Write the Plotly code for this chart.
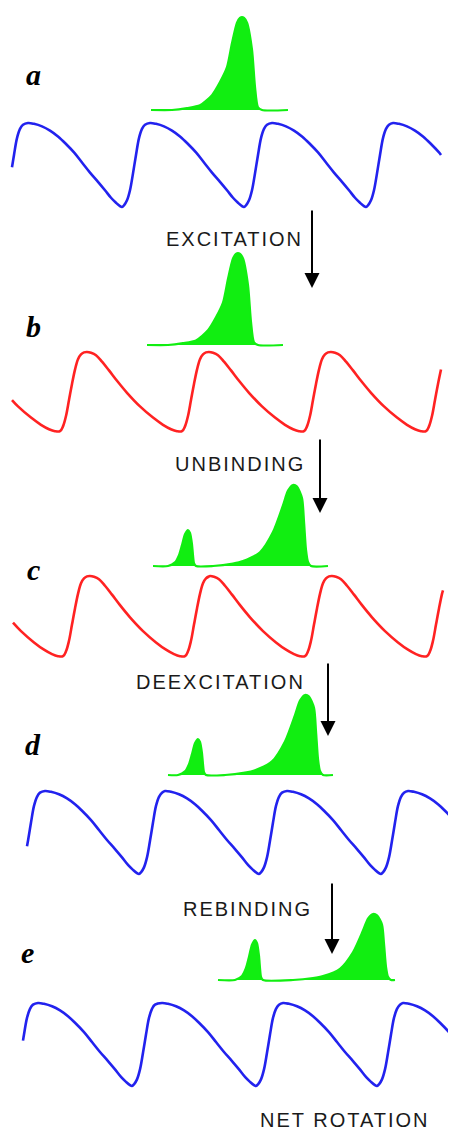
import numpy as np
import plotly.graph_objects as go

W, H = 456, 1129
PAGE_MARGIN = 8  # default body margin of the written page

# ---- potential profiles (one period, crest -> crest), offset in px and depth (0 = crest, 1 = trough)
blue_dx = [0, 6, 14, 22, 30, 38, 46, 54, 62, 70, 77, 83, 88, 92, 94, 96, 99, 102, 105, 108, 111, 114, 117, 122]
blue_depth = [0, 0.01, 0.04, 0.09, 0.16, 0.25, 0.35, 0.47, 0.59, 0.70, 0.80, 0.89, 0.95, 0.99, 1.0,
              0.98, 0.92, 0.8, 0.6, 0.38, 0.18, 0.07, 0.02, 0]

red_dx = [0, 4, 9, 15, 22, 30, 40, 53, 66, 76, 84, 90, 95, 98, 101, 104, 107, 110, 113, 116, 119, 122]
red_depth = [0, 0.01, 0.04, 0.12, 0.23, 0.36, 0.51, 0.68, 0.82, 0.91, 0.965, 0.99, 0.99, 0.93, 0.8,
             0.6, 0.4, 0.22, 0.09, 0.03, 0.005, 0]

# panel potentials: colour, crest x positions, crest y, trough y, x start, x end
pot_kind = ["blue", "red", "red", "blue", "blue"]
pot_crests = [[28, 150, 272, 393], [87, 209, 331], [90, 210, 332], [45, 165, 287, 408], [38, 162, 283, 403]]
pot_top = [123, 352, 576, 791, 1003]
pot_bottom = [207, 432, 657, 874, 1086]
pot_xstart = [12, 12, 13, 27, 23]
pot_xend = [441, 441, 443, 453, 452]

# ---- green distributions: peak profiles (offset px, relative height)
bound_dx = [-70, -55, -42, -30, -22, -15, -10, -5, -2, 0, 2, 5, 10, 13, 16, 20]
bound_h = [0, 0.02, 0.05, 0.16, 0.30, 0.46, 0.72, 0.94, 0.99, 1, 0.99, 0.94, 0.65, 0.25, 0.03, 0]

big_dx = [-80, -60, -50, -33, -20, -10, -5, 0, 4, 9, 11, 13, 15, 18]
big_h = [0, 0.03, 0.06, 0.17, 0.42, 0.75, 0.93, 1, 0.98, 0.84, 0.55, 0.2, 0.05, 0]

small_dx = [-20, -13, -9, -6, -3, 0, 2, 4, 5, 6, 8]
small_h = [0, 0.1, 0.3, 0.58, 0.88, 1, 0.92, 0.6, 0.3, 0.08, 0]

dist_base = [110, 345, 566, 775, 980]
dist_xstart = [151, 147, 153, 168, 218]
dist_xend = [288, 283, 328, 333, 395]
# peaks per panel: (profile, centre x, height px)
dist_peaks = [
    [("bound", 242, 93)],
    [("bound", 238, 92)],
    [("small", 188, 36), ("big", 293, 81)],
    [("small", 198, 36), ("big", 305, 80)],
    [("small", 255, 40), ("big", 373, 66)],
]

panel_labels = ["a", "b", "c", "d", "e"]
label_x = [33, 33, 33, 33, 27]
label_y = [74, 326, 569, 744, 952]

step_labels = ["EXCITATION", "UNBINDING", "DEEXCITATION", "REBINDING"]
step_x = [234, 240, 220, 247]
step_y = [239, 464, 682, 909]
arrow_x = [312, 320, 328, 332]
arrow_tail = [209, 438, 662, 882]
arrow_head = [288, 513, 736, 954]

final_label = "NET ROTATION"
final_x, final_y = 345, 1120

COLORS = {"blue": "#2222ee", "red": "#ff2222"}
GREEN = "#11ee11"

fig = go.Figure()

for kind, crests, top, bot, xs, xe in zip(pot_kind, pot_crests, pot_top, pot_bottom, pot_xstart, pot_xend):
    dx = blue_dx if kind == "blue" else red_dx
    dp = blue_depth if kind == "blue" else red_depth
    period = dx[-1]
    all_c = [crests[0] - period] + crests
    px, pd = [], []
    for c in all_c:
        for d, v in zip(dx[:-1], dp[:-1]):
            px.append(c + d)
            pd.append(v)
    px.append(all_c[-1] + period)
    pd.append(0)
    px = np.array(px, float)
    pd = np.array(pd, float)
    keep = (px > xs) & (px < xe)
    xx = [xs] + list(px[keep]) + [xe]
    dd = [np.interp(xs, px, pd)] + list(pd[keep]) + [np.interp(xe, px, pd)]
    yy = [top + v * (bot - top) for v in dd]
    fig.add_trace(go.Scatter(x=xx, y=yy, mode="lines",
                             line=dict(color=COLORS[kind], width=2.6, shape="spline", smoothing=1.0),
                             hoverinfo="skip"))

profiles = {"bound": (bound_dx, bound_h), "big": (big_dx, big_h), "small": (small_dx, small_h)}
for base, xs, xe, peaks in zip(dist_base, dist_xstart, dist_xend, dist_peaks):
    xx, yy = [xs], [base]
    for name, cx, hgt in peaks:
        pdx, ph = profiles[name]
        for d, v in zip(pdx, ph):
            xx.append(cx + d)
            yy.append(base - v * hgt)
    xx.append(xe)
    yy.append(base)
    fig.add_trace(go.Scatter(x=xx, y=yy, mode="lines", fill="toself", fillcolor=GREEN,
                             line=dict(color=GREEN, width=2.2, shape="spline", smoothing=0.7),
                             hoverinfo="skip"))

ann = []
for t, x, y in zip(panel_labels, label_x, label_y):
    ann.append(dict(x=x, y=y, xref="x", yref="y", text=t, showarrow=False,
                    xanchor="center", yanchor="middle",
                    font=dict(family="Liberation Serif", size=30, color="#000", weight="bold", style="italic")))
for t, x, y in zip(step_labels, step_x, step_y):
    ann.append(dict(x=x, y=y, xref="x", yref="y",
                    text='<span style="letter-spacing:2px">%s</span>' % t, showarrow=False,
                    xanchor="center", yanchor="middle",
                    font=dict(family="Liberation Sans", size=20, color="#1a1a1a")))
for x, t, h in zip(arrow_x, arrow_tail, arrow_head):
    ann.append(dict(x=x, y=h, ax=x, ay=t, xref="x", yref="y", axref="x", ayref="y",
                    text="", showarrow=True, arrowhead=2, arrowsize=1.5, arrowwidth=2,
                    arrowcolor="#000", standoff=0, startstandoff=0))
ann.append(dict(x=final_x, y=final_y, xref="x", yref="y",
                text='<span style="letter-spacing:2px">%s</span>' % final_label, showarrow=False,
                xanchor="center", yanchor="middle",
                font=dict(family="Liberation Sans", size=20, color="#1a1a1a")))

fig.update_layout(
    width=W, height=H, margin=dict(l=0, r=0, t=0, b=0),
    paper_bgcolor="white", plot_bgcolor="white", showlegend=False,
    xaxis=dict(range=[PAGE_MARGIN, W + PAGE_MARGIN], visible=False, fixedrange=True),
    yaxis=dict(range=[H + PAGE_MARGIN, PAGE_MARGIN], visible=False, fixedrange=True),
    annotations=ann,
)

fig.write_html("out.html")
